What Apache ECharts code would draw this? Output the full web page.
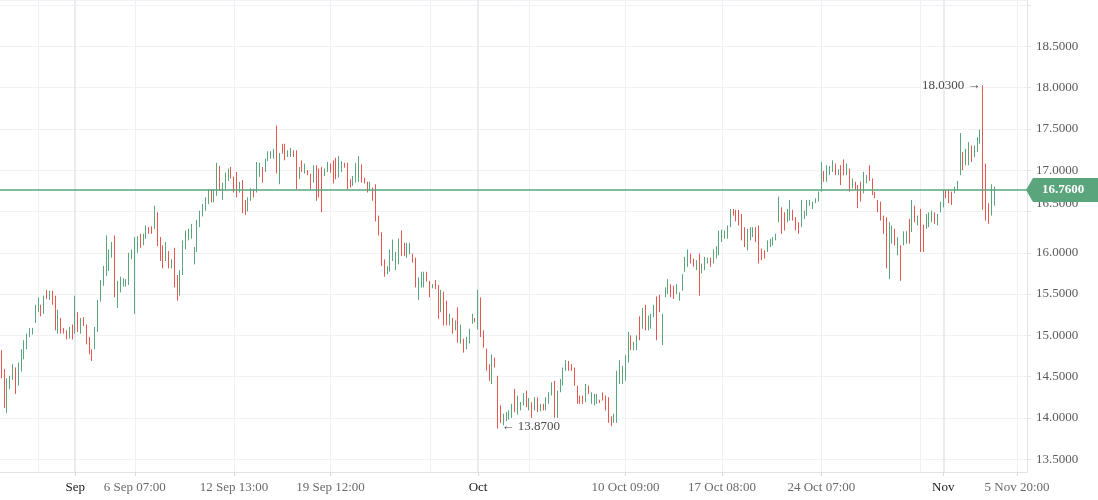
<!DOCTYPE html>
<html>
<head>
<meta charset="utf-8">
<style>
  html, body { margin: 0; padding: 0; background: #ffffff; }
  #chart { width: 1098px; height: 500px; }
</style>
<script src="https://cdn.jsdelivr.net/npm/echarts@6/dist/echarts.min.js"></script>
</head>
<body>
<div id="chart"></div>
<script>
// ---- data: [open, close, low, high] per candle ----
const candles = [
[14.78,14.52,14.48,14.82],[14.55,14.15,14.12,14.59],[14.10,14.44,14.06,14.48],[14.38,14.49,14.35,14.51],[14.48,14.62,14.46,14.65],
[14.58,14.33,14.29,14.61],[14.42,14.64,14.39,14.67],[14.60,14.80,14.56,14.83],[14.74,14.91,14.71,14.94],[14.86,14.99,14.83,15.02],
[15.00,15.07,14.98,15.09],[15.02,15.08,15.01,15.09],[15.18,15.34,15.15,15.37],[15.31,15.43,15.28,15.46],[15.35,15.26,15.23,15.37],
[15.28,15.45,15.26,15.48],[15.52,15.46,15.44,15.55],[15.45,15.52,15.43,15.54],[15.52,15.40,15.37,15.54],[15.44,15.10,15.06,15.48],
[15.06,15.28,15.02,15.31],[15.18,15.05,15.02,15.21],[15.07,15.04,15.02,15.09],[15.04,14.97,14.95,15.06],[14.98,15.08,14.96,15.10],
[15.10,14.98,14.95,15.13],[15.05,15.40,15.02,15.48],[15.25,15.08,15.04,15.28],[15.06,15.18,15.02,15.21],[15.20,15.13,15.11,15.22],
[15.11,14.93,14.89,15.13],[14.95,14.80,14.77,14.98],[14.81,14.72,14.69,14.83],[14.86,15.06,14.83,15.10],[15.08,15.38,15.04,15.43],
[15.44,15.63,15.41,15.67],[15.63,15.80,15.60,15.84],[15.78,16.15,15.72,16.21],[15.82,16.00,15.78,16.04],[15.98,16.10,15.94,16.13],
[16.15,15.52,15.46,16.21],[15.40,15.62,15.33,15.66],[15.55,15.68,15.52,15.71],[15.61,15.67,15.59,15.69],[15.61,15.66,15.59,15.68],
[15.64,15.95,15.61,16.00],[15.94,16.02,15.92,16.04],[15.95,16.15,15.26,16.19],[16.03,16.17,16.00,16.20],[16.20,16.09,16.06,16.23],
[16.11,16.21,16.09,16.23],[16.19,16.30,16.17,16.33],[16.30,16.25,16.23,16.31],[16.30,16.25,16.23,16.32],[16.32,16.50,16.29,16.57],
[16.46,16.12,16.08,16.49],[16.15,15.94,15.90,16.19],[16.05,15.86,15.81,16.09],[15.93,16.10,15.90,16.13],[15.99,15.85,15.81,16.02],
[15.83,15.90,15.81,15.92],[16.02,15.62,15.58,16.06],[15.70,15.46,15.42,15.73],[15.50,15.75,15.48,15.79],[15.76,16.10,15.73,16.15],
[16.07,16.24,16.04,16.27],[16.17,16.27,16.15,16.29],[16.20,16.32,16.17,16.35],[15.89,16.05,15.86,16.07],[16.04,16.36,16.01,16.40],
[16.34,16.48,16.31,16.51],[16.46,16.57,16.44,16.59],[16.53,16.65,16.51,16.67],[16.61,16.75,16.59,16.77],[16.75,16.63,16.61,16.77],
[16.63,16.75,16.61,16.77],[16.72,17.02,16.69,17.09],[17.02,16.78,16.75,17.05],[16.67,16.82,16.64,16.85],[16.80,16.94,16.77,16.97],
[16.90,17.00,16.87,17.02],[17.01,16.92,16.90,17.04],[16.90,16.76,16.73,16.92],[16.94,16.70,16.67,16.98],[16.75,16.84,16.73,16.86],
[16.84,16.52,16.48,16.88],[16.60,16.49,16.46,16.64],[16.52,16.64,16.50,16.67],[16.65,16.76,16.63,16.78],[16.75,16.69,16.67,16.77],
[16.76,17.05,16.73,17.10],[16.95,17.06,16.92,17.09],[17.01,16.88,16.85,17.04],[17.00,17.12,16.98,17.14],[17.13,17.21,17.11,17.23],
[17.16,17.21,17.14,17.23],[17.16,17.24,17.14,17.26],[17.24,17.00,16.96,17.54],[16.90,17.18,16.83,17.21],[17.30,17.22,17.20,17.32],
[17.29,17.15,17.12,17.32],[17.17,17.22,17.16,17.24],[17.18,17.25,17.16,17.27],[17.23,17.18,17.16,17.24],[17.20,16.82,16.77,17.24],
[16.91,17.01,16.89,17.04],[17.10,17.00,16.98,17.12],[16.98,17.06,16.96,17.08],[16.99,16.95,16.94,17.00],[16.94,16.80,16.77,16.96],
[16.87,17.03,16.85,17.06],[17.03,16.68,16.63,17.06],[16.98,16.72,16.67,17.02],[17.00,16.55,16.49,17.04],[16.94,17.00,16.93,17.02],
[17.00,17.08,16.98,17.10],[17.07,16.99,16.97,17.08],[17.10,16.88,16.84,17.12],[17.12,16.92,16.89,17.15],[16.94,17.14,16.91,17.17],
[17.00,17.09,16.98,17.11],[17.08,17.04,17.03,17.09],[17.06,16.80,16.77,17.09],[16.87,16.81,16.79,16.89],[16.83,16.91,16.81,16.93],
[16.88,17.06,16.85,17.09],[16.89,17.14,16.86,17.17],[17.05,16.88,16.85,17.07],[16.90,16.86,16.84,16.91],[16.85,16.76,16.73,16.86],
[16.77,16.84,16.75,16.86],[16.78,16.66,16.63,16.79],[16.70,16.42,16.38,16.83],[16.42,16.24,16.21,16.45],[16.22,15.88,15.84,16.25],
[15.89,15.74,15.71,15.92],[15.75,15.82,15.74,15.84],[15.80,16.00,15.77,16.04],[15.93,16.12,15.90,16.16],[15.82,15.98,15.79,16.01],
[15.88,16.13,15.86,16.17],[16.15,15.99,15.96,16.27],[16.10,15.98,15.96,16.12],[15.97,16.09,15.94,16.12],[16.00,16.10,15.98,16.12],
[15.98,15.90,15.88,15.99],[15.92,15.62,15.58,15.94],[15.46,15.67,15.43,15.70],[15.60,15.74,15.58,15.77],[15.60,15.75,15.58,15.77],
[15.75,15.67,15.65,15.77],[15.64,15.49,15.46,15.66],[15.58,15.61,15.57,15.62],[15.65,15.58,15.56,15.67],[15.59,15.24,15.20,15.61],
[15.31,15.52,15.28,15.55],[15.50,15.16,15.12,15.53],[15.39,15.15,15.12,15.42],[15.14,15.24,15.12,15.26],[15.19,15.05,15.02,15.21],
[15.08,15.16,15.06,15.18],[15.30,14.95,14.91,15.34],[14.93,15.10,14.90,15.13],[14.94,14.82,14.79,14.96],[14.85,14.96,14.83,14.98],
[14.93,15.06,14.90,15.08],[15.16,15.24,15.14,15.26],[15.20,15.17,15.16,15.21],[15.12,15.48,15.07,15.55],[15.42,15.02,14.98,15.46],
[15.03,14.88,14.85,15.06],[14.82,14.60,14.57,14.84],[14.62,14.48,14.45,14.65],[14.45,14.74,14.41,14.77],[14.71,14.63,14.61,14.73],
[14.50,13.92,13.87,14.51],[14.12,13.97,13.94,14.15],[13.93,14.03,13.91,14.05],[13.98,14.05,13.96,14.07],[14.00,14.07,13.98,14.09],
[14.02,14.15,14.00,14.17],[14.31,14.10,14.07,14.35],[14.07,14.24,14.04,14.27],[14.11,14.17,14.09,14.19],[14.17,14.28,14.15,14.30],
[14.30,14.16,14.13,14.33],[14.11,14.22,14.09,14.24],[14.17,14.03,14.00,14.19],[14.11,14.23,14.09,14.25],[14.22,14.10,14.07,14.25],
[14.10,14.15,14.08,14.17],[14.15,14.11,14.09,14.17],[14.11,14.23,14.09,14.25],[14.19,14.29,14.17,14.31],[14.29,14.41,14.27,14.43],
[14.42,14.04,14.00,14.45],[14.04,14.30,14.00,14.33],[14.33,14.45,14.31,14.47],[14.41,14.58,14.39,14.61],[14.59,14.68,14.57,14.70],
[14.67,14.59,14.57,14.69],[14.63,14.59,14.57,14.65],[14.59,14.42,14.39,14.61],[14.37,14.20,14.17,14.39],[14.26,14.19,14.17,14.27],
[14.25,14.19,14.17,14.27],[14.21,14.38,14.19,14.41],[14.37,14.31,14.29,14.39],[14.19,14.29,14.17,14.31],[14.17,14.27,14.15,14.29],
[14.19,14.27,14.17,14.29],[14.21,14.19,14.18,14.22],[14.30,14.23,14.21,14.31],[14.25,14.12,14.09,14.27],[14.22,13.97,13.94,14.25],
[14.01,13.92,13.90,14.02],[13.96,14.03,13.94,14.05],[13.98,14.52,13.94,14.57],[14.44,14.67,14.41,14.70],[14.44,14.60,14.41,14.63],
[14.48,14.72,14.45,14.76],[14.70,15.00,14.67,15.04],[14.98,14.85,14.82,15.00],[14.84,14.90,14.82,14.92],[14.85,14.97,14.82,15.00],
[15.20,14.97,14.94,15.23],[15.10,15.30,15.08,15.33],[15.34,15.09,15.06,15.37],[15.08,15.22,15.06,15.24],[15.10,15.24,15.08,15.26],
[15.24,15.35,15.22,15.37],[15.44,15.00,14.94,15.47],[15.46,15.31,15.28,15.49],[14.92,15.22,14.88,15.26],[15.48,15.56,15.46,15.58],
[15.52,15.66,15.50,15.68],[15.60,15.49,15.46,15.62],[15.58,15.47,15.44,15.60],[15.52,15.60,15.50,15.62],[15.44,15.50,15.42,15.52],
[15.56,15.72,15.54,15.74],[15.79,15.93,15.77,15.95],[15.85,16.01,15.83,16.04],[15.97,15.89,15.87,15.99],[15.91,15.85,15.83,15.93],
[15.81,15.89,15.79,15.91],[15.90,15.55,15.48,15.99],[15.77,15.85,15.75,15.87],[15.81,15.93,15.79,15.95],[15.88,15.93,15.87,15.94],
[15.93,15.85,15.83,15.94],[15.89,16.02,15.87,16.04],[15.95,16.06,15.93,16.08],[16.00,16.24,15.97,16.27],[16.15,16.26,16.13,16.28],
[16.19,16.25,16.17,16.27],[16.19,16.31,16.17,16.33],[16.33,16.50,16.31,16.53],[16.51,16.47,16.45,16.53],[16.50,16.40,16.38,16.52],
[16.49,16.36,16.33,16.52],[16.44,16.18,16.15,16.47],[16.28,16.10,16.07,16.31],[16.06,16.26,16.03,16.29],[16.17,16.29,16.15,16.31],
[16.21,16.29,16.19,16.31],[16.29,16.16,16.13,16.31],[16.30,15.92,15.87,16.33],[16.03,15.94,15.91,16.05],[16.01,15.95,15.93,16.03],
[16.03,16.13,16.01,16.15],[16.09,16.15,16.07,16.17],[16.11,16.17,16.09,16.19],[16.17,16.21,16.15,16.23],[16.40,16.64,16.37,16.68],
[16.52,16.27,16.23,16.55],[16.46,16.30,16.27,16.49],[16.39,16.51,16.37,16.53],[16.42,16.61,16.39,16.64],[16.50,16.41,16.39,16.52],
[16.41,16.30,16.27,16.43],[16.35,16.26,16.23,16.37],[16.34,16.60,16.31,16.64],[16.43,16.49,16.41,16.51],[16.47,16.61,16.45,16.64],
[16.58,16.63,16.57,16.64],[16.55,16.60,16.53,16.62],[16.61,16.65,16.60,16.66],[16.64,16.72,16.62,16.74],[16.76,17.05,16.74,17.10],
[16.97,16.88,16.86,16.99],[16.90,17.03,16.86,17.06],[16.96,17.03,16.94,17.05],[17.00,17.10,16.98,17.12],[17.06,16.96,16.94,17.08],
[16.95,17.00,16.94,17.01],[17.03,16.85,16.82,17.06],[17.10,16.97,16.94,17.13],[16.96,17.06,16.94,17.08],[17.00,16.78,16.74,17.02],
[16.80,16.88,16.78,16.90],[16.85,16.78,16.76,16.86],[16.80,16.58,16.54,16.82],[16.83,16.65,16.62,16.86],[16.75,16.95,16.72,16.98],
[16.86,16.92,16.84,16.94],[17.03,16.89,16.87,17.06],[16.88,16.73,16.70,16.90],[16.73,16.67,16.66,16.74],[16.62,16.52,16.49,16.64],
[16.60,16.42,16.39,16.62],[16.43,16.26,16.23,16.45],[16.40,15.86,15.81,16.43],[15.85,16.33,15.68,16.37],[16.13,16.31,16.11,16.33],
[16.27,16.11,16.09,16.29],[16.00,16.16,15.97,16.19],[16.07,15.72,15.66,16.09],[16.11,16.24,16.09,16.26],[16.13,16.24,16.11,16.26],
[16.38,16.14,16.11,16.41],[16.28,16.60,16.25,16.64],[16.55,16.40,16.37,16.57],[16.35,16.43,16.33,16.45],[16.50,16.06,16.01,16.53],
[16.31,16.04,16.01,16.34],[16.31,16.45,16.29,16.47],[16.33,16.47,16.31,16.49],[16.39,16.49,16.37,16.51],[16.47,16.37,16.35,16.49],
[16.35,16.45,16.33,16.47],[16.51,16.60,16.49,16.62],[16.57,16.74,16.55,16.76],[16.75,16.68,16.66,16.76],[16.74,16.63,16.60,16.76],
[16.72,16.61,16.58,16.74],[16.73,16.78,16.72,16.80],[16.78,16.85,16.76,16.87],[16.96,17.40,16.94,17.45],[17.20,17.03,17.00,17.22],
[17.08,17.24,17.06,17.26],[17.08,17.31,17.06,17.34],[17.28,17.13,17.10,17.30],[17.18,17.28,17.16,17.30],[17.24,17.38,17.22,17.40],
[17.34,17.47,17.32,17.49],[17.47,16.62,16.52,18.03],[17.06,16.45,16.39,17.08],[16.58,16.38,16.35,16.60],[16.48,16.80,16.45,16.83],
[16.60,16.76,16.57,16.80]
];
const emptySlots = 11;                       // empty space right of the last candle
const lastPrice = 16.76;

// x-axis labels: category index -> text
const tickIdx  = [26, 47, 82, 116, 168, 220, 254, 289, 332, 358];
const tickText = ['Sep', '6 Sep 07:00', '12 Sep 13:00', '19 Sep 12:00', 'Oct',
                  '10 Oct 09:00', '17 Oct 08:00', '24 Oct 07:00', 'Nov', '5 Nov 20:00'];
const monthText = ['Sep', 'Oct', 'Nov'];
// weekly vertical grid lines (unlabelled ones included) and month lines
const weekLineIdx  = [13, 47, 82, 116, 151, 186, 220, 254, 289, 324, 358];
const monthLineIdx = [26, 168, 332];

// ---- build ----
const total = candles.length + emptySlots;
const categories = [];
for (let i = 0; i < total; i++) categories.push(String(i));
const seriesData = candles.slice();
for (let i = 0; i < emptySlots; i++) seriesData.push('-');

const labelMap = {};
tickIdx.forEach((k, j) => { labelMap[k] = tickText[j]; });
const weekSet = new Set(weekLineIdx);
const monthSet = new Set(monthLineIdx);

const UP = '#5aa57c';
const DOWN = '#e8574f';
const GRID = '#eff1f4';
const FONT = 'Liberation Serif';
const gridRight = 71;

const chart = echarts.init(document.getElementById('chart'), null, { renderer: 'canvas' });

const option = {
  animation: false,
  backgroundColor: '#ffffff',
  grid: { left: 0, right: gridRight, top: 0, bottom: 28, containLabel: false },
  xAxis: [
    {
      type: 'category',
      data: categories,
      boundaryGap: true,
      axisLine: { show: true, lineStyle: { color: '#e1e3e8', width: 1 } },
      axisTick: {
        show: true, alignWithLabel: true, length: 4,
        interval: (i) => labelMap[i] !== undefined,
        lineStyle: { color: '#d6d9de' }
      },
      axisLabel: {
        show: true, margin: 9,
        interval: (i) => labelMap[i] !== undefined,
        formatter: (v, i) => {
          const t = labelMap[i];
          if (t === undefined) return '';
          return monthText.indexOf(t) >= 0 ? '{m|' + t + '}' : '{d|' + t + '}';
        },
        rich: {
          m: { color: '#1a1a1a', fontFamily: FONT, fontSize: 13 },
          d: { color: '#6a6a6a', fontFamily: FONT, fontSize: 13 }
        }
      },
      splitLine: {
        show: true, alignWithLabel: true,
        interval: (i) => weekSet.has(i),
        lineStyle: { color: GRID, width: 1 }
      }
    },
    {
      type: 'category',
      data: categories,
      boundaryGap: true,
      position: 'bottom',
      axisLine: { show: false },
      axisTick: { show: false },
      axisLabel: { show: false },
      splitLine: {
        show: true, alignWithLabel: true,
        interval: (i) => monthSet.has(i),
        lineStyle: { color: '#e4e6ea', width: 1.5 }
      }
    }
  ],
  yAxis: {
    type: 'value',
    position: 'right',
    min: 13.344,
    max: 19.062,
    splitNumber: 10,
    axisLine: { show: true, lineStyle: { color: '#e1e3e8' } },
    axisTick: { show: true, length: 4, inside: false, lineStyle: { color: '#e1e3e8' } },
    axisLabel: {
      margin: 9,
      color: '#5a5a5a',
      fontFamily: FONT,
      fontSize: 13,
      showMinLabel: false,
      showMaxLabel: false,
      formatter: (v) => {
        if (v > 18.9) return '';
        return Math.abs(v - 16.5) < 1e-6 ? '{s|' + v.toFixed(4) + '}' : v.toFixed(4);
      },
      rich: { s: { color: '#5a5a5a', fontFamily: FONT, fontSize: 13, padding: [0, 0, 16, 0] } }
    },
    splitLine: { show: true, lineStyle: { color: GRID, width: 1 } }
  },
  series: [{
    type: 'candlestick',
    xAxisIndex: 0,
    yAxisIndex: 0,
    data: seriesData,
    barWidth: 1.2,
    itemStyle: {
      color: UP, color0: DOWN,
      borderColor: UP, borderColor0: DOWN,
      borderWidth: 1
    },
    markLine: {
      silent: true,
      symbol: ['none', 'none'],
      label: { show: false },
      lineStyle: { color: UP, width: 1.5, type: 'solid' },
      data: [{ yAxis: lastPrice }]
    },
    markPoint: {
      silent: true,
      symbol: 'rect',
      symbolSize: 1,
      itemStyle: { color: 'rgba(0,0,0,0)' },
      data: [
        {
          type: 'max', valueDim: 'highest',
          label: {
            show: true, position: 'left', distance: 2,
            color: '#4a4a4a', fontFamily: FONT, fontSize: 13,
            formatter: (p) => Number(p.value).toFixed(4) + ' \u2192'
          }
        },
        {
          type: 'min', valueDim: 'lowest',
          label: {
            show: true, position: 'right', distance: 3, offset: [0, -2],
            color: '#4a4a4a', fontFamily: FONT, fontSize: 13,
            formatter: (p) => '\u2190 ' + Number(p.value).toFixed(4)
          }
        }
      ]
    }
  }]
};

chart.setOption(option);

// last-price tag on the right axis, positioned through the axis scale
const yPix = chart.convertToPixel({ yAxisIndex: 0 }, lastPrice);
const x0 = chart.getWidth() - gridRight;
const w = chart.getWidth();
chart.setOption({
  graphic: [
    {
      type: 'polygon', z: 100,
      shape: { points: [[x0 - 1, yPix], [x0 + 6, yPix - 12], [w, yPix - 12], [w, yPix + 12], [x0 + 6, yPix + 12]] },
      style: { fill: UP }
    },
    {
      type: 'text', z: 101,
      x: x0 + 36, y: yPix,
      style: {
        text: lastPrice.toFixed(4), fill: '#ffffff',
        font: 'bold 13px "Liberation Serif"',
        textAlign: 'center', textVerticalAlign: 'middle'
      }
    }
  ]
});
</script>
</body>
</html>
